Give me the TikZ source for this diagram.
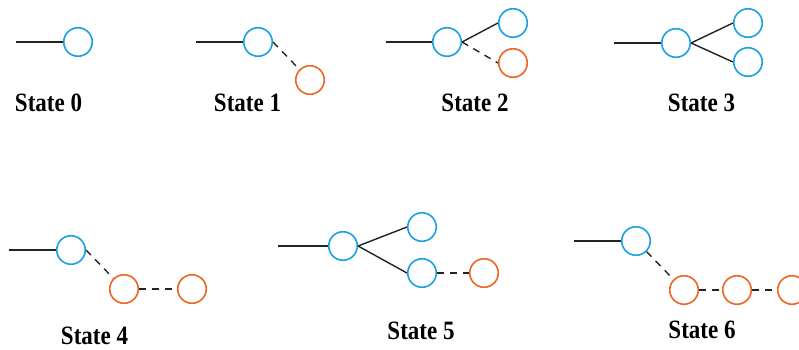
\documentclass[tikz,border=0pt]{standalone}
\usepackage{fontspec}
\setmainfont{Liberation Serif}
\definecolor{nodeblue}{RGB}{27,161,226}
\definecolor{nodeorange}{RGB}{241,101,35}
\definecolor{edgegray}{RGB}{35,35,35}
\tikzset{
  bnode/.style={circle, draw=nodeblue, line width=1.6pt, minimum size=28.5pt, inner sep=0pt},
  onode/.style={circle, draw=nodeorange, line width=1.6pt, minimum size=28.5pt, inner sep=0pt},
  solidedge/.style={draw=edgegray, line width=1.4pt},
  dashedge/.style={draw=edgegray, line width=1.4pt, dash pattern=on 7pt off 6pt},
  statelabel/.style={font=\fontsize{23}{25}\selectfont\bfseries, inner sep=0pt}
}
\newcommand{\statetext}[1]{\scalebox{1}[1.15]{#1}}
\begin{document}
\begin{tikzpicture}[x=1pt, y=-1pt]
\useasboundingbox (0,0) rectangle (799,349);
\clip (0,0) rectangle (799,349);

% State 0
\coordinate (s0in) at (16,42);
\node[bnode] (s0a) at (78,42) {};
\draw[solidedge] (s0in) -- (s0a.west);
\node[statelabel] (l0) at (48.5,103) {\statetext{State 0}};

% State 1
\coordinate (s1in) at (196,42);
\node[bnode] (s1a) at (258,42) {};
\node[onode] (s1b) at (310,80) {};
\draw[solidedge] (s1in) -- (s1a.west);
\draw[dashedge] (s1a.east) -- (s1b.north west);
\node[statelabel] (l1) at (247.5,103) {\statetext{State 1}};

% State 2
\coordinate (s2in) at (386,42);
\node[bnode] (s2a) at (447,42) {};
\node[bnode] (s2b) at (513,23) {};
\node[onode] (s2c) at (513,63) {};
\draw[solidedge] (s2in) -- (s2a.west);
\draw[solidedge] (s2a.east) -- (s2b.west);
\draw[dashedge] (s2a.east) -- (s2c.west);
\node[statelabel] (l2) at (475,103) {\statetext{State 2}};

% State 3
\coordinate (s3in) at (614,43);
\node[bnode] (s3a) at (676,43) {};
\node[bnode] (s3b) at (748,23) {};
\node[bnode] (s3c) at (748,62) {};
\draw[solidedge] (s3in) -- (s3a.west);
\draw[solidedge] (s3a.east) -- (s3b.west);
\draw[solidedge] (s3a.east) -- (s3c.west);
\node[statelabel] (l3) at (701.5,103) {\statetext{State 3}};

% State 4
\coordinate (s4in) at (9,250);
\node[bnode] (s4a) at (71,250) {};
\node[onode] (s4b) at (124,289) {};
\node[onode] (s4c) at (192,289) {};
\draw[solidedge] (s4in) -- (s4a.west);
\draw[dashedge] (s4a.east) -- (s4b.north west);
\draw[dashedge] (s4b.east) -- (s4c.west);
\node[statelabel] (l4) at (94.5,336) {\statetext{State 4}};

% State 5
\coordinate (s5in) at (278,246);
\node[bnode] (s5a) at (343,246) {};
\node[bnode] (s5b) at (422,227) {};
\node[bnode] (s5c) at (422,273) {};
\node[onode] (s5d) at (484,273) {};
\draw[solidedge] (s5in) -- (s5a.west);
\draw[solidedge] (s5a.east) -- (s5b.west);
\draw[solidedge] (s5a.east) -- (s5c.west);
\draw[dashedge] (s5c.east) -- (s5d.west);
\node[statelabel] (l5) at (421,331) {\statetext{State 5}};

% State 6
\coordinate (s6in) at (574,241);
\node[bnode] (s6a) at (636,241) {};
\node[onode] (s6b) at (684,290) {};
\node[onode] (s6c) at (737,290) {};
\node[onode] (s6d) at (792,290) {};
\draw[solidedge] (s6in) -- (s6a.west);
\draw[dashedge] (s6a.south east) -- (s6b.north west);
\draw[dashedge] (s6b.east) -- (s6c.west);
\draw[dashedge] (s6c.east) -- (s6d.west);
\node[statelabel] (l6) at (702,330) {\statetext{State 6}};
\end{tikzpicture}
\end{document}
